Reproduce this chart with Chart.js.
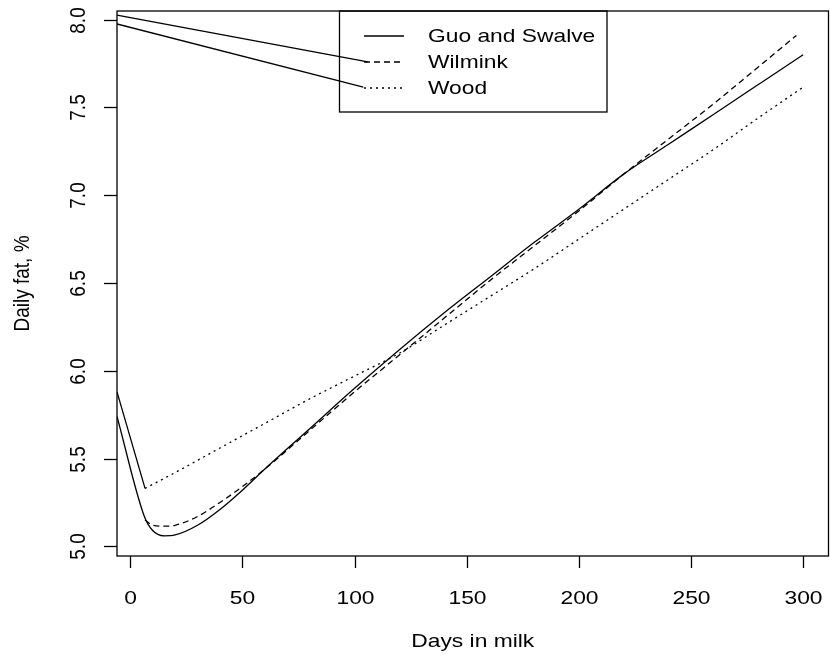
<!DOCTYPE html>
<html lang="en">
<head>
  <meta charset="UTF-8">
  <title>Daily fat</title>
  <script src="https://cdn.jsdelivr.net/npm/chart.js"></script>
  <style>
    body { margin: 0; background: #fff; }
  </style>
</head>
<body>
  <canvas id="grafico" width="830" height="666"></canvas>

  <script>
    // Guo and Swalve (solid)
    const daysGuo = [-5.9, 6.3, 10, 15, 20, 30, 40, 50, 60, 80, 100, 120, 140, 160, 180, 200, 220, 240, 260, 280, 300];
    const fatGuo = [5.74, 5.17, 5.09, 5.06, 5.065, 5.12, 5.21, 5.32, 5.44, 5.67, 5.90, 6.12, 6.33, 6.53, 6.73, 6.92, 7.12, 7.29, 7.46, 7.63, 7.80];

    // Wilmink (dashed)
    const daysWilmink = [6.6, 10, 15, 20, 30, 40, 50, 60, 80, 100, 120, 140, 160, 180, 200, 220, 240, 260, 280, 297];
    const fatWilmink = [5.15, 5.12, 5.115, 5.12, 5.17, 5.25, 5.34, 5.44, 5.66, 5.88, 6.09, 6.30, 6.51, 6.71, 6.91, 7.12, 7.32, 7.52, 7.73, 7.91];

    // Wood (dotted)
    const daysWood = [6.6, 20, 40, 60, 80, 100, 120, 140, 160, 180, 200, 220, 240, 260, 280, 299.4];
    const fatWood = [5.33, 5.42, 5.56, 5.70, 5.84, 5.97, 6.10, 6.26, 6.42, 6.58, 6.75, 6.92, 7.09, 7.26, 7.44, 7.61];

    // stray solid segments that are in the picture
    const daysStray1 = [-5.9, 6.6];
    const fatStray1 = [5.88, 5.33];
    const daysStray2 = [-5.9, 105.9];
    const fatStray2 = [8.026, 7.759];
    const daysStray3 = [-5.9, 103.9];
    const fatStray3 = [7.975, 7.615];

    const xTicks = [0, 50, 100, 150, 200, 250, 300];
    const yTicks = [5.0, 5.5, 6.0, 6.5, 7.0, 7.5, 8.0];
    const yTickLabels = ['5.0', '5.5', '6.0', '6.5', '7.0', '7.5', '8.0'];
    const seriesNames = ['Guo and Swalve', 'Wilmink', 'Wood'];

    const FONT = '19px "Liberation Sans", Arial, sans-serif';
    const STRETCH = 1.2;
    const LW = 1.3;
    const dashes = [[], [6, 4], [2, 4]];

    function pts(xs, ys) {
      return xs.map((x, i) => ({ x: x, y: ys[i] }));
    }

    function txt(ctx, s, x, y, rot) {
      ctx.save();
      ctx.translate(x, y);
      ctx.scale(STRETCH, 1);
      if (rot) ctx.rotate(rot);
      ctx.fillText(s, 0, 0);
      ctx.restore();
    }

    // R style box, axes, labels and legend
    const rPlot = {
      id: 'rPlot',
      afterDraw(chart) {
        const ctx = chart.ctx;
        const a = chart.chartArea;
        const xs = chart.scales.x, ys = chart.scales.y;
        ctx.save();
        ctx.strokeStyle = '#000';
        ctx.fillStyle = '#000';
        ctx.lineWidth = LW;
        ctx.setLineDash([]);
        ctx.strokeRect(a.left, a.top, a.right - a.left, a.bottom - a.top);

        ctx.font = FONT;
        ctx.textAlign = 'center';
        ctx.textBaseline = 'middle';

        // x axis
        xTicks.forEach(v => {
          const px = Math.round(xs.getPixelForValue(v)) + 0.5;
          ctx.beginPath();
          ctx.moveTo(px, a.bottom);
          ctx.lineTo(px, a.bottom + 12);
          ctx.stroke();
          txt(ctx, String(v), px, 599);
        });
        // y axis
        yTicks.forEach((v, i) => {
          const py = Math.round(ys.getPixelForValue(v)) + 0.5;
          ctx.beginPath();
          ctx.moveTo(a.left, py);
          ctx.lineTo(a.left - 13, py);
          ctx.stroke();
          txt(ctx, yTickLabels[i], 79, py, -Math.PI / 2);
        });

        txt(ctx, 'Days in milk', (a.left + a.right) / 2, 642);
        txt(ctx, 'Daily fat, %', 23, (a.top + a.bottom) / 2, -Math.PI / 2);

        // legend
        ctx.strokeRect(339.5, a.top, 267.5, 101);
        const keyY = [36, 62, 88];
        seriesNames.forEach((name, i) => {
          ctx.setLineDash(dashes[i]);
          ctx.beginPath();
          ctx.moveTo(364, keyY[i]);
          ctx.lineTo(404, keyY[i]);
          ctx.stroke();
          ctx.setLineDash([]);
          ctx.textAlign = 'left';
          txt(ctx, name, 428, keyY[i] + 1);
        });
        ctx.restore();
      }
    };

    function line(data, dash) {
      return {
        data: data,
        showLine: true,
        borderColor: '#000',
        borderWidth: LW,
        borderDash: dash,
        pointRadius: 0,
        fill: false,
        cubicInterpolationMode: 'monotone'
      };
    }

    const ctx = document.getElementById('grafico').getContext('2d');
    new Chart(ctx, {
      type: 'scatter',
      data: {
        datasets: [
          Object.assign(line(pts(daysGuo, fatGuo), dashes[0]), { label: seriesNames[0] }),
          Object.assign(line(pts(daysWilmink, fatWilmink), dashes[1]), { label: seriesNames[1] }),
          Object.assign(line(pts(daysWood, fatWood), dashes[2]), { label: seriesNames[2] }),
          line(pts(daysStray1, fatStray1), []),
          line(pts(daysStray2, fatStray2), []),
          line(pts(daysStray3, fatStray3), [])
        ]
      },
      options: {
        responsive: false,
        animation: false,
        layout: { padding: { left: 117, right: 1.5, top: 11, bottom: 110 } },
        plugins: { legend: { display: false }, tooltip: { enabled: false } },
        scales: {
          x: { type: 'linear', min: -5.9, max: 311.3, display: false },
          y: { type: 'linear', min: 4.945, max: 8.049, display: false }
        }
      },
      plugins: [rPlot]
    });
  </script>
</body>
</html>
